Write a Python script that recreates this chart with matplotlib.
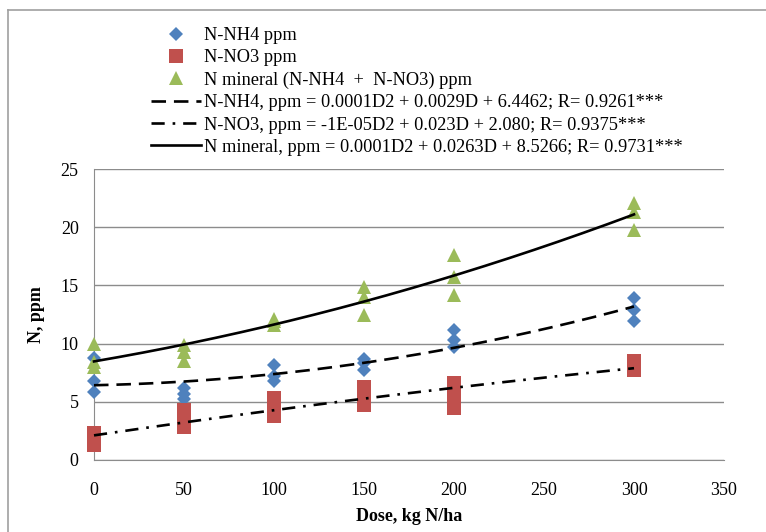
import matplotlib
matplotlib.use('Agg')
import matplotlib.pyplot as plt
from matplotlib.lines import Line2D
import numpy as np

plt.rcParams['font.family'] = ['Liberation Serif', 'DejaVu Serif']

# dose levels, three replicates each
doses = [0, 50, 100, 150, 200, 300]
nh4 = [[8.75, 6.75, 5.8], [6.15, 5.65, 5.2], [8.2, 7.25, 6.75],
       [8.7, 8.3, 7.75], [11.15, 10.3, 9.75], [13.9, 12.9, 11.9]]
no3 = [[2.35, 1.8, 1.3], [4.3, 3.5, 2.8], [5.3, 4.5, 3.75],
       [6.3, 5.5, 4.7], [6.6, 5.5, 4.45], [8.5, 8.1, 7.7]]
nmin = [[9.95, 8.45, 8.0], [9.9, 9.3, 8.5], [12.1, 11.9, 11.6],
        [14.9, 14.0, 12.5], [17.6, 15.7, 14.2], [22.05, 21.3, 19.8]]

labels_pts = ['N-NH4 ppm', 'N-NO3 ppm', 'N mineral (N-NH4  +  N-NO3) ppm']
labels_fit = ['N-NH4, ppm = 0.0001D2 + 0.0029D + 6.4462; R= 0.9261***',
              'N-NO3, ppm = -1E-05D2 + 0.023D + 2.080; R= 0.9375***',
              'N mineral, ppm = 0.0001D2 + 0.0263D + 8.5266; R= 0.9731***']

c_blue, c_red, c_green = '#4F81BD', '#C0504D', '#9BBB59'

fig = plt.figure(figsize=(7.66, 5.32), dpi=100)
ax = fig.add_axes([94/766, 1-460/532, 630/766, 291/532])

xs = np.repeat(doses, 3)
ax.plot(xs, np.ravel(nh4), 'D', color=c_blue, ms=7.2, mew=0, zorder=3, clip_on=False)
ax.plot(xs, np.ravel(no3), 's', color=c_red, ms=9.6, mew=0, zorder=3, clip_on=False)
ax.plot(xs, np.ravel(nmin), '^', color=c_green, ms=9.4, mew=0, zorder=3, clip_on=False)

# quadratic trend lines
styles = [(0, (5.5, 3)), (0, (5, 3, 1, 3)), '-']
xx = np.linspace(0, 300, 200)
for ys, ls in zip([nh4, no3, nmin], styles):
    p = np.polyfit(xs, np.ravel(ys), 2)
    ax.plot(xx, np.polyval(p, xx), color='black', lw=1.9, ls=ls, zorder=4, clip_on=False)

ax.set_xlim(0, 350)
ax.set_ylim(0, 25)
ax.set_xticks(range(0, 351, 50))
ax.set_yticks(range(0, 26, 5))
ax.grid(axis='y', color='#8c8c8c', lw=1)
ax.set_axisbelow(True)
for s in ['top', 'right']:
    ax.spines[s].set_visible(False)
for s in ['left', 'bottom']:
    ax.spines[s].set_color('#8c8c8c')
ax.tick_params(axis='both', length=0, labelsize=13)
ax.tick_params(axis='x', pad=16)
ax.tick_params(axis='y', pad=11)

ax.set_xlabel('Dose, kg N/ha', fontsize=13, fontweight='bold')
ax.set_ylabel('N, ppm', fontsize=13, fontweight='bold')
ax.xaxis.set_label_coords(0.5, -0.165)
ax.yaxis.set_label_coords(-0.078, 0.5)

handles = [
    Line2D([], [], ls='none', marker='D', color=c_blue, ms=6.8, mew=0),
    Line2D([], [], ls='none', marker='s', color=c_red, ms=9.6, mew=0),
    Line2D([], [], ls='none', marker='^', color=c_green, ms=9.4, mew=0),
]
for ls in styles:
    handles.append(Line2D([], [], color='black', lw=1.9, ls=ls))
fig.legend(handles, labels_pts + labels_fit, loc='upper left',
           bbox_to_anchor=(151/766, 1-27/532), frameon=False, fontsize=13.2,
           handlelength=2.7, handletextpad=0.2, labelspacing=0.29,
           borderpad=0, borderaxespad=0)

# outer chart border (only top and left visible)
fig.add_artist(Line2D([8/766, 8/766], [0, 1-10/532], color='#a0a0a0', lw=1.2))
fig.add_artist(Line2D([8/766, 1], [1-10/532, 1-10/532], color='#a0a0a0', lw=1.2))

fig.savefig('out.png', dpi=100)
